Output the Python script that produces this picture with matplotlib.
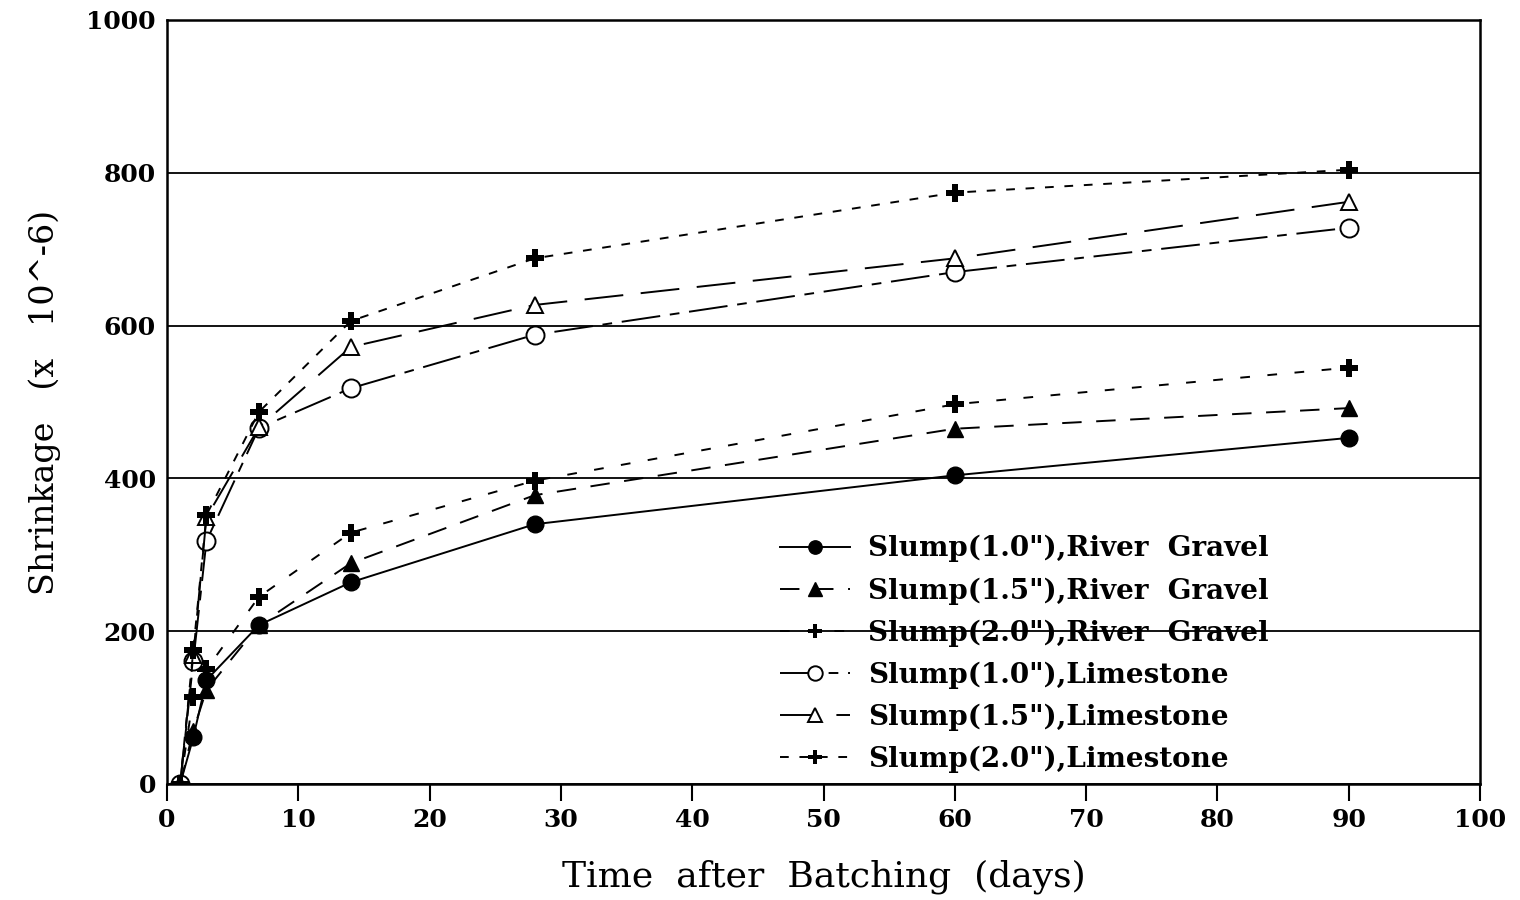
import matplotlib.pyplot as plt

# days after batching
days = [1, 2, 3, 7, 14, 28, 60, 90]

# shrinkage values (x 10^-6)
river_10 = [0, 61, 136, 208, 264, 340, 404, 453]
river_15 = [0, 70, 123, 208, 289, 378, 465, 492]
river_20 = [0, 114, 150, 245, 329, 397, 497, 545]
lime_10 = [0, 161, 318, 466, 518, 588, 670, 728]
lime_15 = [0, 169, 349, 467, 572, 627, 688, 762]
lime_20 = [0, 175, 352, 487, 606, 688, 774, 804]

labels = [
    'Slump(1.0"),River  Gravel',
    'Slump(1.5"),River  Gravel',
    'Slump(2.0"),River  Gravel',
    'Slump(1.0"),Limestone',
    'Slump(1.5"),Limestone',
    'Slump(2.0"),Limestone',
]

plt.rcParams["font.family"] = ["DejaVu Serif"]

fig = plt.figure(figsize=(15.2, 9), dpi=100)
ax = fig.add_axes([0.1099, 0.1289, 0.8638, 0.8489])

lw = 1.4
ax.plot(days, river_10, color="black", lw=lw, ls="-", marker="o", ms=12,
        mfc="black", label=labels[0])
ax.plot(days, river_15, color="black", lw=lw, ls=(0, (10, 7.5)), marker="^", ms=12,
        mfc="black", label=labels[1])
ax.plot(days, river_20, color="black", lw=lw, ls=(0, (5, 9)), marker="P", ms=13,
        mfc="black", mew=0, label=labels[2])
ax.plot(days, lime_10, color="black", lw=lw, ls=(0, (20, 5, 5, 5)), marker="o", ms=13,
        mfc="white", mew=1.4, label=labels[3])
ax.plot(days, lime_15, color="black", lw=lw, ls=(0, (20, 9)), marker="^", ms=12,
        mfc="white", mew=1.4, label=labels[4])
ax.plot(days, lime_20, color="black", lw=lw, ls=(0, (4.5, 5.5)), marker="P", ms=13,
        mfc="black", mew=0, label=labels[5])

ax.set_xlim(0, 100)
ax.set_ylim(0, 1000)
ax.set_xticks(range(0, 101, 10))
ax.set_yticks(range(0, 1001, 200))
ax.yaxis.grid(True, color="black", lw=1.3)
ax.set_axisbelow(True)
for s in ax.spines.values():
    s.set_linewidth(1.8)
ax.tick_params(axis="x", direction="out", length=12, width=1.5, pad=5)
ax.tick_params(axis="y", length=0, pad=8)
for t in ax.get_xticklabels() + ax.get_yticklabels():
    t.set_fontsize(18)
    t.set_fontweight("bold")

ax.set_xlabel("Time  after  Batching  (days)", fontsize=26, labelpad=20)
ax.set_ylabel("Shrinkage   (x   10^-6)", fontsize=24, labelpad=18)

ax.legend(loc="lower left", bbox_to_anchor=(0.4585, 0.0), frameon=False,
          prop={"size": 20, "weight": "bold"}, handlelength=2.5,
          labelspacing=0.53, handletextpad=0.65, borderaxespad=0,
          markerscale=0.8)

fig.savefig("out.png", dpi=100)
